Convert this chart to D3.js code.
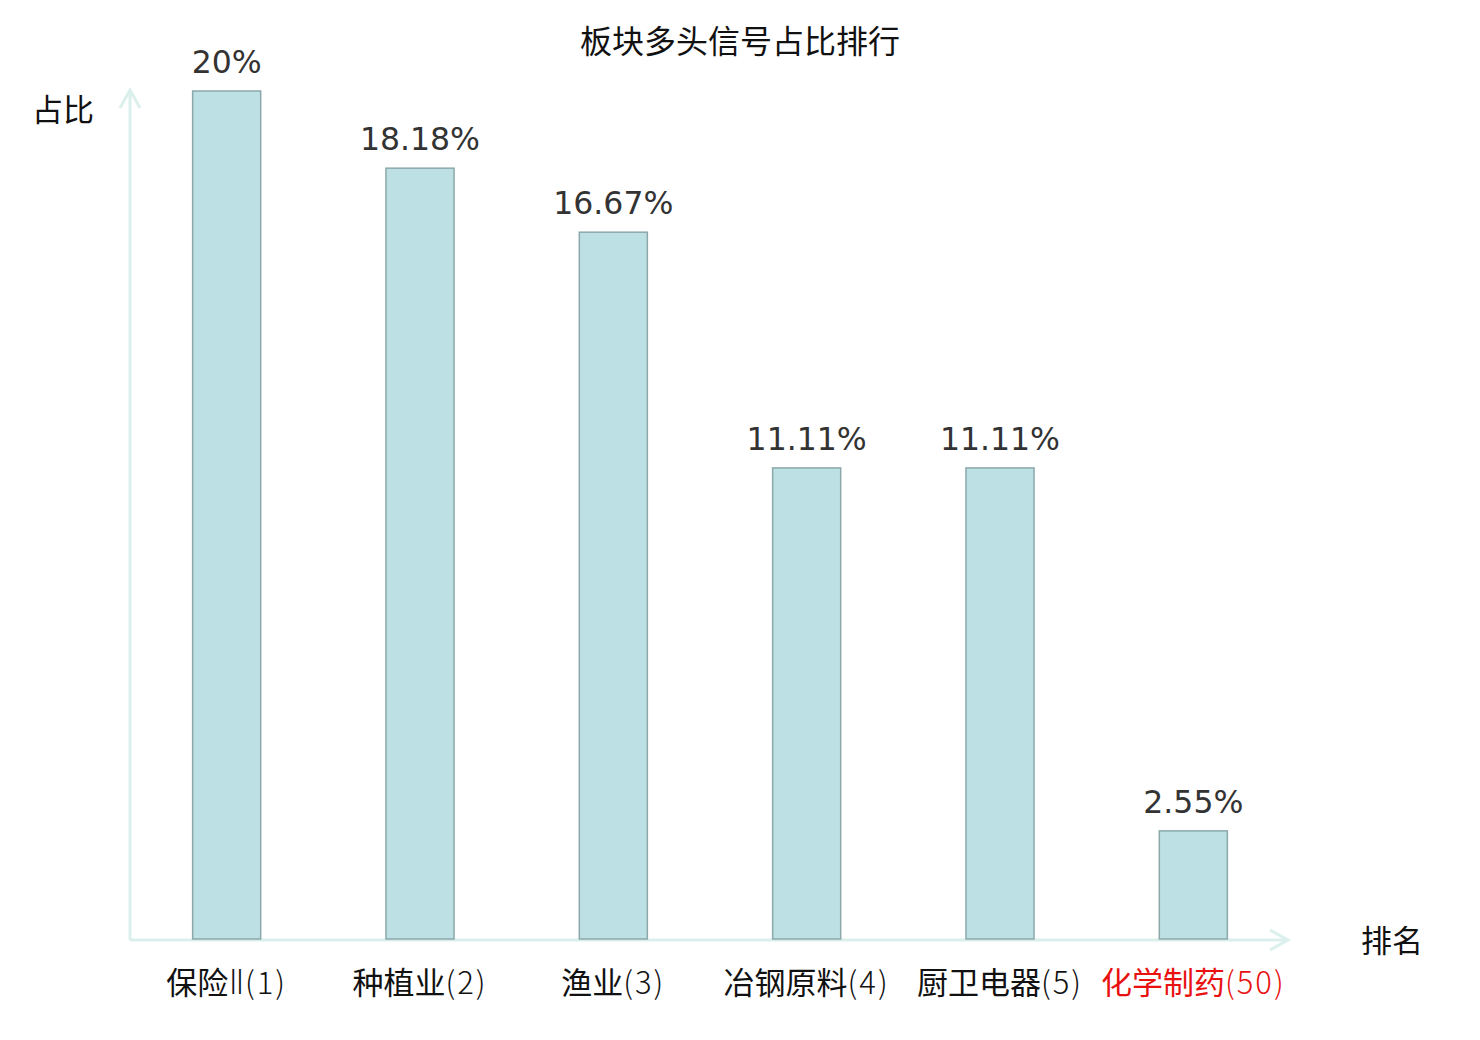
<!DOCTYPE html>
<html>
<head>
<meta charset="utf-8">
<script src="https://cdn.jsdelivr.net/npm/d3@7"></script>
<style>
  body { margin: 0; background: #fff; }
</style>
</head>
<body>
<script>
var categories = ["保险Ⅱ(1)", "种植业(2)", "渔业(3)", "冶钢原料(4)", "厨卫电器(5)", "化学制药(50)"];
var values = [20, 18.18, 16.67, 11.11, 11.11, 2.55];
var highlight = ["化学制药(50)"];

var svg = d3.select("body").append("svg")
    .attr("width", 1480).attr("height", 1040);

var cjk = "'Noto Sans CJK SC', 'Noto Sans', sans-serif";
var latin = "'DejaVu Sans', 'Noto Sans CJK SC', sans-serif";

var x = d3.scaleBand().domain(categories).range([130, 1290])
    .paddingInner(0.648).paddingOuter(0.324);
var y = d3.scaleLinear().domain([0, 20]).range([939, 91]);

// title
svg.append("text")
    .attr("x", 740).attr("y", 53)
    .attr("text-anchor", "middle")
    .style("font-family", cjk).style("font-size", "32px").style("fill", "#111")
    .text("板块多头信号占比排行");

// axes with arrows
var axisColor = "#dbf0ed";
var axes = svg.append("g").attr("stroke", axisColor).attr("stroke-width", 3).attr("fill", "none");
axes.append("line").attr("x1", 130).attr("y1", 940).attr("x2", 130).attr("y2", 90);
axes.append("path").attr("d", "M120,108 L130,90 L140,108");
axes.append("line").attr("x1", 130).attr("y1", 940).attr("x2", 1288).attr("y2", 940);
axes.append("path").attr("d", "M1270,930 L1288,940 L1270,950");

svg.append("text")
    .attr("x", 63).attr("y", 121).attr("text-anchor", "middle")
    .style("font-family", cjk).style("font-size", "31px").style("fill", "#111")
    .text("占比");
svg.append("text")
    .attr("x", 1392).attr("y", 952).attr("text-anchor", "middle")
    .style("font-family", cjk).style("font-size", "31px").style("fill", "#111")
    .text("排名");

// bars
svg.append("g").selectAll("rect")
    .data(values)
    .enter().append("rect")
    .attr("x", function(d, i){ return x(categories[i]); })
    .attr("y", function(d){ return y(d); })
    .attr("width", x.bandwidth())
    .attr("height", function(d){ return y(0) - y(d); })
    .attr("fill", "#bce0e3")
    .attr("stroke", "#8ca8aa")
    .attr("stroke-width", 1.5);

// value labels
svg.append("g").selectAll("text")
    .data(values)
    .enter().append("text")
    .attr("x", function(d, i){ return x(categories[i]) + x.bandwidth() / 2; })
    .attr("y", function(d){ return y(d) - 18; })
    .attr("text-anchor", "middle")
    .style("font-family", latin).style("font-size", "31.5px").style("fill", "#333")
    .text(function(d){ return d + "%"; });

// category labels: Chinese part regular, numeral and rank part light
function parts(d){ return d.match(/^([^Ⅱ(]*)(Ⅱ?)(\(.*\))$/); }
var labels = svg.append("g").selectAll("text")
    .data(categories)
    .enter().append("text")
    .attr("x", function(d){ return x(d) + x.bandwidth() / 2; })
    .attr("y", 994)
    .attr("text-anchor", "middle")
    .style("font-family", cjk).style("font-size", "31px")
    .style("fill", function(d){ return highlight.indexOf(d) >= 0 ? "#e8110f" : "#111"; });
labels.append("tspan")
    .text(function(d){ return parts(d)[1]; });
labels.append("tspan")
    .style("font-family", latin).style("font-weight", 200).style("font-size", "34px")
    .text(function(d){ return parts(d)[2]; });
labels.append("tspan")
    .style("font-weight", 300).style("letter-spacing", "2px")
    .text(function(d){ return parts(d)[3]; });
</script>
</body>
</html>
